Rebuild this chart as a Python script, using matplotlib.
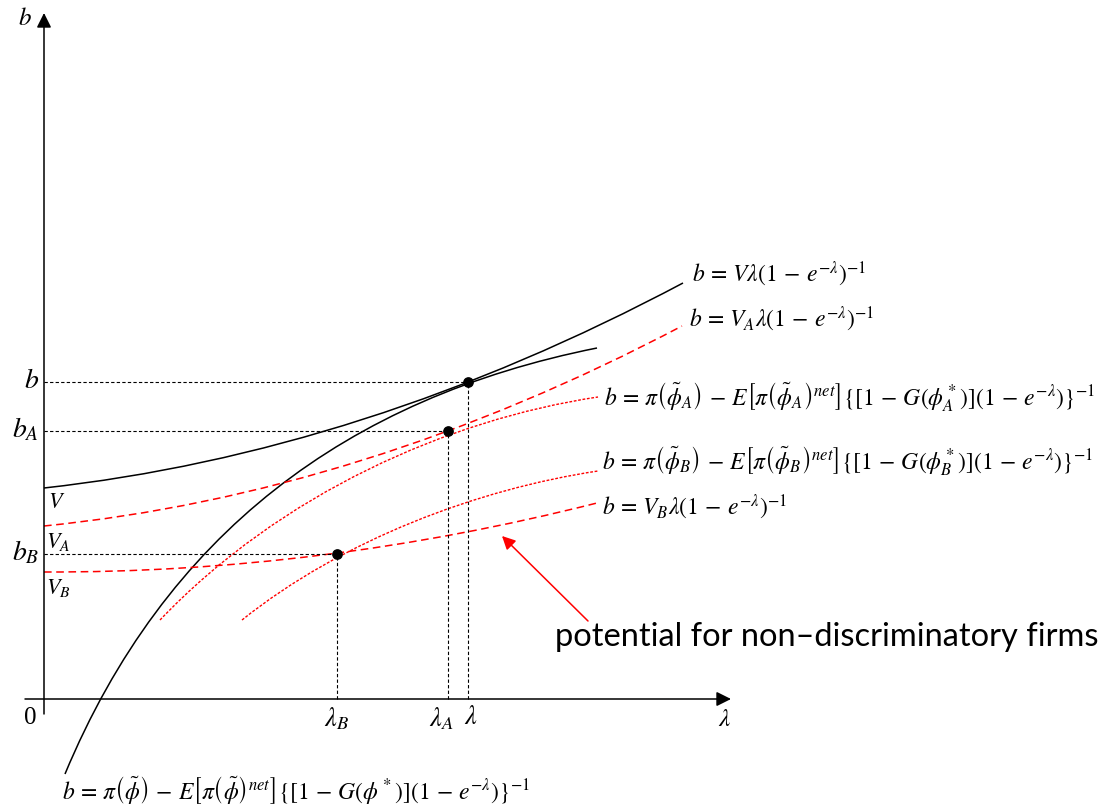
import matplotlib
matplotlib.use("Agg")
import matplotlib.pyplot as plt
from matplotlib.path import Path
from matplotlib.patches import PathPatch

plt.rcParams['mathtext.fontset'] = 'stix'

# equilibrium points (lambda, b): general, group A, group B
eq_lam = [4.24, 4.04, 2.93]
eq_b = [3.17, 2.68, 1.45]
eq_names = ['', '_A', '_B']

# curves as bezier control points (lambda, b)
curve_V = [(0.0, 2.11), (3.195, 2.461), (6.39, 4.16)]
curve_pi = [(0.21, -0.75), (1.21, 1.65), (3.03, 3.01), (5.53, 3.51)]
curve_VA = [(0.0, 1.73), (3.19, 2.05), (6.38, 3.73)]
curve_piA = [(1.16, 0.79), (2.36, 2.05), (4.04, 2.795), (5.54, 3.02)]
curve_piB = [(1.98, 0.79), (2.98, 1.59), (4.34, 2.10), (5.54, 2.28)]
curve_VB = [(0.0, 1.27), (2.76, 1.26), (5.53, 1.96)]

lbl_V = r'$b\,=\,V\lambda\left(1\,-\,e^{-\lambda}\right)^{-1}$'
lbl_VA = r'$b\,=\,V_A\lambda\left(1\,-\,e^{-\lambda}\right)^{-1}$'
lbl_VB = r'$b\,=\,V_B\lambda\left(1\,-\,e^{-\lambda}\right)^{-1}$'
lbl_piA = (r'$b\,=\,\pi\left(\tilde{\phi}_A\right)\,-\,E\left[\pi\left(\tilde{\phi}_A\right)^{net}\right]'
           r'\{[1\,-\,G(\phi_A^*)]\left(1\,-\,e^{-\lambda}\right)\}^{-1}$')
lbl_piB = (r'$b\,=\,\pi\left(\tilde{\phi}_B\right)\,-\,E\left[\pi\left(\tilde{\phi}_B\right)^{net}\right]'
           r'\{[1\,-\,G(\phi_B^*)]\left(1\,-\,e^{-\lambda}\right)\}^{-1}$')
lbl_pi = (r'$b\,=\,\pi\left(\tilde{\phi}\right)\,-\,E\left[\pi\left(\tilde{\phi}\right)^{net}\right]'
          r'\{[1\,-\,G(\phi^*)]\left(1\,-\,e^{-\lambda}\right)\}^{-1}$')

RED = '#ff0000'
FS = 17


def bezier(ax, pts, **kw):
    if len(pts) == 3:
        codes = [Path.MOVETO, Path.CURVE3, Path.CURVE3]
    else:
        codes = [Path.MOVETO, Path.CURVE4, Path.CURVE4, Path.CURVE4]
    ax.add_patch(PathPatch(Path(pts, codes), fill=False, **kw))


fig = plt.figure(figsize=(11.07, 8.12), dpi=100)
ax = fig.add_axes([0, 0, 1, 1])
ax.set_xlim(-0.44, 10.63)
ax.set_ylim(-1.12, 7.0)
ax.axis('off')

# axes with arrows
ax.annotate('', xy=(6.87, 0), xytext=(-0.19, 0),
            arrowprops=dict(arrowstyle='-|>', mutation_scale=22, lw=1.1, color='black', shrinkA=0, shrinkB=0))
ax.annotate('', xy=(0, 6.86), xytext=(0, -0.15),
            arrowprops=dict(arrowstyle='-|>', mutation_scale=22, lw=1.1, color='black', shrinkA=0, shrinkB=0))

ax.text(-0.19, 6.82, r'$b$', fontsize=18, ha='center', va='center')
ax.text(-0.14, -0.18, '0', fontsize=18, ha='center', va='center', family='Liberation Serif')
ax.text(6.81, -0.19, r'$\lambda$', fontsize=18, ha='center', va='center')

# guide lines
for lam, b in zip(eq_lam, eq_b):
    ax.plot([0, lam], [b, b], color='black', lw=0.8, ls=(0, (3, 2)))
    ax.plot([lam, lam], [0, b], color='black', lw=0.8, ls=(0, (3, 2)))

# curves
bezier(ax, curve_V, edgecolor='black', lw=1.1)
bezier(ax, curve_pi, edgecolor='black', lw=1.1)
bezier(ax, curve_VA, edgecolor=RED, lw=1.1, ls=(0, (5, 3)))
bezier(ax, curve_VB, edgecolor=RED, lw=1.1, ls=(0, (5, 3)))
bezier(ax, curve_piA, edgecolor=RED, lw=1.0, ls=(0, (2, 1.2)))
bezier(ax, curve_piB, edgecolor=RED, lw=1.0, ls=(0, (2, 1.2)))

ax.scatter(eq_lam, eq_b, s=45, color='black', zorder=5)

# tick-like labels
ax.text(eq_lam[2], -0.19, r'$\lambda_B$', fontsize=19, ha='center', va='center')
ax.text(3.97, -0.19, r'$\lambda_A$', fontsize=19, ha='center', va='center')
ax.text(4.27, -0.17, r'$\lambda$', fontsize=19, ha='center', va='center')
for b, nm in zip(eq_b, eq_names):
    ax.text(-0.05, b + 0.03, r'$b%s$' % nm, fontsize=20, ha='right', va='center')

ax.text(0.04, 2.08, r'$V$', fontsize=16, ha='left', va='top')
ax.text(0.02, 1.69, r'$V_A$', fontsize=16, ha='left', va='top')
ax.text(0.02, 1.23, r'$V_B$', fontsize=16, ha='left', va='top')

# curve labels
ax.text(6.48, 4.26, lbl_V, fontsize=FS, ha='left', va='center')
ax.text(6.45, 3.81, lbl_VA, fontsize=FS, ha='left', va='center')
ax.text(5.60, 3.03, lbl_piA, fontsize=FS, ha='left', va='center')
ax.text(5.58, 2.39, lbl_piB, fontsize=FS, ha='left', va='center')
ax.text(5.58, 1.93, lbl_VB, fontsize=FS, ha='left', va='center')
ax.text(0.18, -0.90, lbl_pi, fontsize=FS, ha='left', va='center')

# annotation
ax.annotate('', xy=(4.58, 1.63), xytext=(5.44, 0.78),
            arrowprops=dict(arrowstyle='-|>', mutation_scale=20, lw=1.1, color=RED, shrinkA=0, shrinkB=0))
ax.text(5.11, 0.63, 'potential for non\u2013discriminatory firms', fontsize=23.5,
        family='Lato', ha='left', va='center')

fig.savefig('out.png', dpi=100)
